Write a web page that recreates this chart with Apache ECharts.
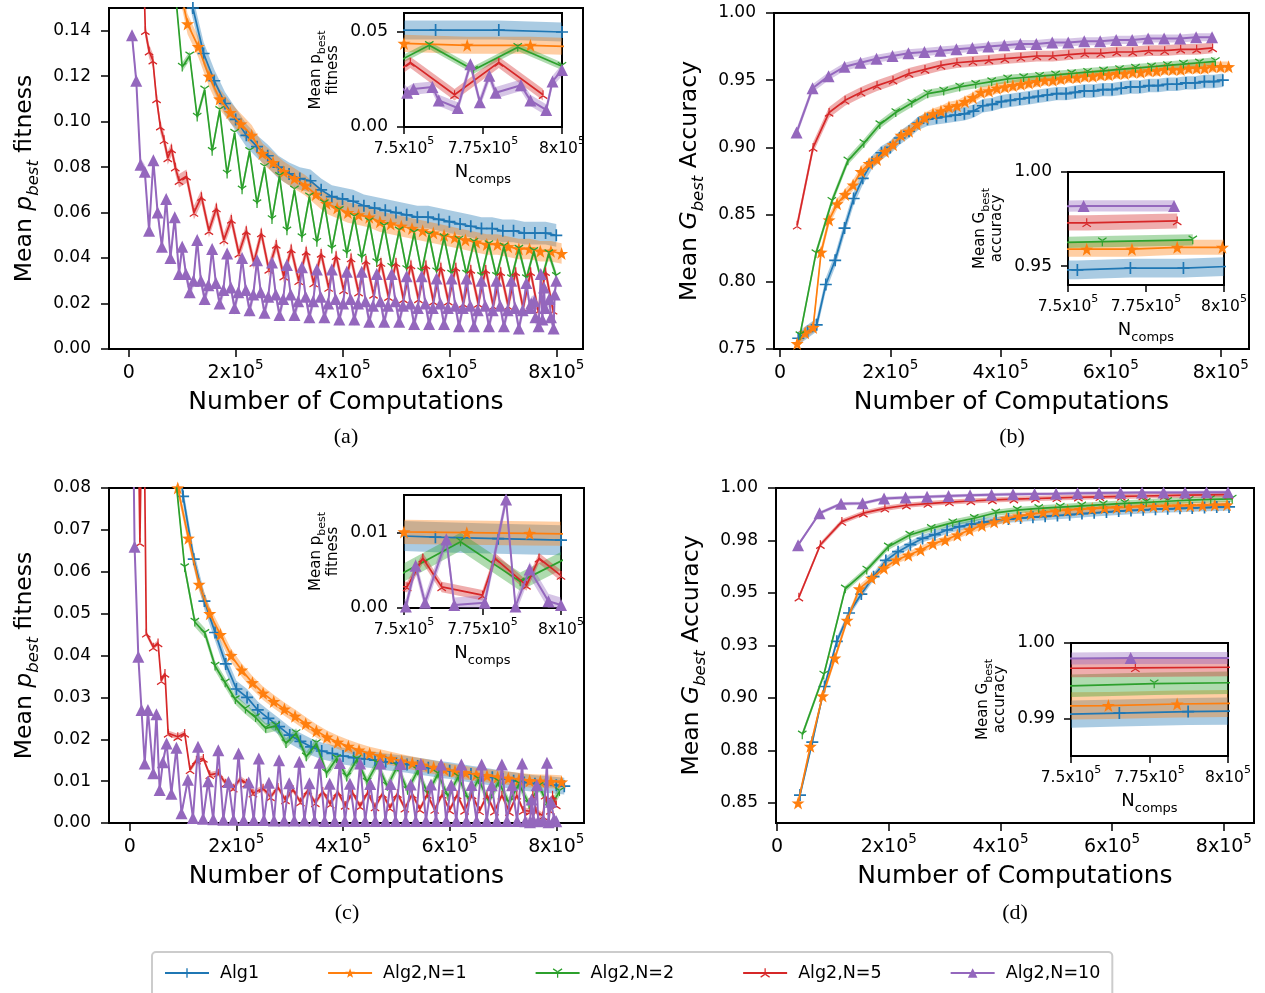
<!DOCTYPE html>
<html>
<head>
<meta charset="utf-8">
<script src="https://cdn.jsdelivr.net/npm/echarts@6/dist/echarts.min.js"></script>
<style>
html, body { margin: 0; padding: 0; background: #fff; }
#chart { width: 1265px; height: 993px; }
</style>
</head>
<body>
<div id="chart"></div>
<script>
// x values are in units of 1e5 computations

// ---- panel (a): mean p_best fitness, problem 1
var aBlueX = [0.2,0.4,0.6,0.8,1.0,1.2,1.4,1.6,1.8,2.0,2.2,2.4,2.6,2.8,3.0,3.2,3.4,3.6,3.8,4.0,4.2,4.4,4.6,4.8,5.0,5.2,5.4,5.6,5.8,6.0,6.2,6.4,6.6,6.8,7.0,7.2,7.4,7.6,7.8,8.0];
var aBlueY = [0.40,0.30,0.25,0.20,0.17,0.150,0.130,0.118,0.108,0.101,0.094,0.089,0.085,0.080,0.077,0.075,0.074,0.070,0.067,0.066,0.065,0.063,0.062,0.061,0.060,0.059,0.058,0.058,0.057,0.056,0.055,0.054,0.053,0.053,0.052,0.052,0.051,0.051,0.051,0.050];
var aOrangeX = [0.1,0.3,0.5,0.7,0.9,1.1,1.3,1.5,1.7,1.9,2.1,2.3,2.5,2.7,2.9,3.1,3.3,3.5,3.7,3.9,4.1,4.3,4.5,4.7,4.9,5.1,5.3,5.5,5.7,5.9,6.1,6.3,6.5,6.7,6.9,7.1,7.3,7.5,7.7,7.9,8.1];
var aOrangeY = [0.5,0.4,0.3,0.22,0.165,0.143,0.133,0.120,0.110,0.104,0.099,0.094,0.086,0.082,0.078,0.075,0.072,0.068,0.064,0.062,0.060,0.059,0.058,0.056,0.055,0.054,0.053,0.052,0.051,0.050,0.049,0.048,0.047,0.046,0.046,0.045,0.044,0.044,0.043,0.043,0.042];
var aGreenX = [0.58,0.72,0.86,1.00,1.14,1.28,1.42,1.56,1.70,1.84,1.98,2.12,2.26,2.40,2.54,2.68,2.82,2.96,3.10,3.24,3.38,3.52,3.66,3.80,3.94,4.08,4.22,4.36,4.50,4.64,4.78,4.92,5.06,5.20,5.34,5.48,5.62,5.76,5.90,6.04,6.18,6.32,6.46,6.60,6.74,6.88,7.02,7.16,7.30,7.44,7.58,7.72,7.86,8.00];
var aGreenY = [0.30,0.22,0.16,0.124,0.129,0.102,0.114,0.087,0.105,0.077,0.095,0.070,0.087,0.064,0.080,0.057,0.076,0.052,0.070,0.049,0.067,0.047,0.064,0.044,0.061,0.042,0.058,0.040,0.056,0.038,0.054,0.036,0.052,0.035,0.051,0.034,0.050,0.034,0.049,0.033,0.048,0.033,0.047,0.032,0.046,0.032,0.045,0.031,0.044,0.031,0.043,0.030,0.042,0.032];
var aRedX = [0.24,0.31,0.38,0.45,0.52,0.59,0.66,0.73,0.80,0.87,0.94,1.08,1.22,1.36,1.50,1.64,1.78,1.92,2.06,2.20,2.34,2.48,2.62,2.76,2.90,3.04,3.18,3.32,3.46,3.60,3.74,3.88,4.02,4.16,4.30,4.44,4.58,4.72,4.86,5.00,5.14,5.28,5.42,5.56,5.70,5.84,5.98,6.12,6.26,6.40,6.54,6.68,6.82,6.96,7.10,7.24,7.38,7.52,7.66,7.80,7.94];
var aRedY = [0.20,0.140,0.131,0.127,0.110,0.098,0.092,0.084,0.088,0.080,0.074,0.076,0.060,0.067,0.052,0.062,0.048,0.057,0.042,0.052,0.038,0.051,0.035,0.046,0.032,0.044,0.030,0.043,0.029,0.042,0.027,0.041,0.026,0.040,0.025,0.039,0.024,0.038,0.023,0.038,0.022,0.037,0.022,0.037,0.021,0.036,0.021,0.036,0.020,0.035,0.020,0.035,0.019,0.034,0.019,0.034,0.018,0.034,0.017,0.034,0.017];
var aPurpleX = [0.06,0.14,0.22,0.30,0.38,0.46,0.54,0.62,0.70,0.78,0.86,0.94,
    1.00,1.07,1.14,1.21,1.28,1.35,1.42,1.49,1.56,1.63,1.70,1.77,1.84,1.91,1.98,2.05,2.12,2.19,2.26,2.33,2.40,2.47,2.54,2.61,2.68,2.75,2.82,2.89,
    2.96,3.03,3.10,3.17,3.24,3.31,3.38,3.45,3.52,3.59,3.66,3.73,3.80,3.87,3.94,4.01,4.08,4.15,4.22,4.29,4.36,4.43,4.50,4.57,4.64,4.71,4.78,4.85,
    4.92,4.99,5.06,5.13,5.20,5.27,5.34,5.41,5.48,5.55,5.62,5.69,5.76,5.83,5.90,5.97,6.04,6.11,6.18,6.25,6.32,6.39,6.46,6.53,6.60,6.67,6.74,6.81,
    6.88,6.95,7.02,7.09,7.16,7.23,7.30,7.37,7.44,7.51,7.53,7.59,7.61,7.67,7.71,7.74,7.77,7.79,7.87,7.90,7.95,7.97,8.00];
var aPurpleY = [0.138,0.118,0.081,0.078,0.052,0.083,0.060,0.045,0.066,0.040,0.058,0.033,
    0.045,0.033,0.025,0.030, 0.048,0.030,0.022,0.028, 0.044,0.029,0.020,0.026, 0.042,0.027,0.018,0.025, 0.040,0.026,0.017,0.024, 0.039,0.025,0.016,0.023, 0.038,0.024,0.015,0.022,
    0.037,0.024,0.015,0.021, 0.036,0.023,0.014,0.021, 0.035,0.023,0.014,0.020, 0.035,0.022,0.013,0.020, 0.034,0.022,0.013,0.020, 0.034,0.021,0.012,0.019, 0.033,0.021,0.012,0.019,
    0.033,0.021,0.012,0.019, 0.032,0.020,0.011,0.018, 0.032,0.020,0.011,0.018, 0.031,0.020,0.011,0.018, 0.031,0.019,0.010,0.018, 0.031,0.019,0.010,0.017, 0.030,0.019,0.010,0.017,
    0.030,0.019,0.010,0.017, 0.030,0.018,0.009,0.017, 0.029,0.018,0.020,0.021,0.014,0.010,0.033,0.013,0.027,0.018,0.022,0.014,0.009,0.024,0.030];
var aBand = [0.005, 0.0045, 0.002, 0.003, 0.003];

// ---- panel (b): mean G_best accuracy, problem 1
var bBlueX = [0.33,0.50,0.665,0.83,1.0,1.17,1.335,1.50,1.67,1.84,2.0,2.17,2.34,2.51,2.675,2.84,3.01,3.18,3.345,3.51,3.68,3.85,4.015,4.18,4.35,4.52,4.685,4.85,5.02,5.19,5.355,5.52,5.69,5.86,6.025,6.19,6.36,6.53,6.695,6.86,7.03,7.20,7.365,7.53,7.70,7.87,8.035];
var bBlueY = [0.758,0.763,0.768,0.798,0.816,0.840,0.862,0.877,0.889,0.896,0.900,0.907,0.912,0.918,0.921,0.922,0.923,0.924,0.925,0.927,0.931,0.932,0.934,0.935,0.936,0.937,0.938,0.939,0.940,0.940,0.941,0.942,0.942,0.943,0.943,0.944,0.945,0.945,0.946,0.946,0.947,0.947,0.948,0.948,0.949,0.949,0.950];
var bOrangeX = [0.31,0.455,0.60,0.745,0.89,1.035,1.18,1.325,1.47,1.615,1.76,1.905,2.05,2.195,2.34,2.485,2.63,2.775,2.92,3.065,3.21,3.355,3.50,3.645,3.79,3.935,4.08,4.225,4.37,4.515,4.66,4.805,4.95,5.095,5.24,5.385,5.53,5.675,5.82,5.965,6.11,6.255,6.40,6.545,6.69,6.835,6.98,7.125,7.27,7.415,7.56,7.705,7.85,7.995,8.14];
var bOrangeY = [0.754,0.762,0.766,0.822,0.846,0.858,0.865,0.872,0.882,0.888,0.891,0.897,0.902,0.909,0.912,0.917,0.922,0.925,0.927,0.930,0.931,0.934,0.937,0.941,0.942,0.944,0.945,0.946,0.947,0.948,0.949,0.950,0.950,0.951,0.952,0.952,0.953,0.953,0.954,0.954,0.955,0.955,0.956,0.956,0.957,0.957,0.958,0.958,0.958,0.959,0.959,0.959,0.960,0.960,0.960];
var bGreenX = [0.36,0.65,0.94,1.23,1.52,1.81,2.10,2.39,2.68,2.97,3.26,3.55,3.84,4.13,4.42,4.71,5.00,5.29,5.58,5.87,6.16,6.45,6.74,7.03,7.32,7.61,7.90];
var bGreenY = [0.760,0.821,0.860,0.890,0.903,0.917,0.926,0.933,0.940,0.942,0.945,0.947,0.949,0.951,0.952,0.953,0.954,0.955,0.956,0.957,0.958,0.959,0.960,0.961,0.962,0.963,0.964];
var bRedX = [0.31,0.60,0.89,1.18,1.47,1.76,2.05,2.34,2.63,2.92,3.21,3.50,3.79,4.08,4.37,4.66,4.95,5.24,5.53,5.82,6.11,6.40,6.69,6.98,7.27,7.56,7.85];
var bRedY = [0.842,0.900,0.926,0.935,0.941,0.946,0.950,0.955,0.958,0.961,0.963,0.964,0.965,0.966,0.967,0.968,0.968,0.969,0.970,0.970,0.971,0.971,0.972,0.972,0.973,0.973,0.974];
var bPurpleX = [0.30,0.59,0.88,1.17,1.46,1.75,2.04,2.33,2.62,2.91,3.20,3.49,3.78,4.07,4.36,4.65,4.94,5.23,5.52,5.81,6.10,6.39,6.68,6.97,7.26,7.55,7.84];
var bPurpleY = [0.911,0.944,0.953,0.960,0.963,0.966,0.968,0.970,0.971,0.972,0.973,0.974,0.975,0.976,0.977,0.977,0.978,0.978,0.979,0.979,0.980,0.980,0.981,0.981,0.981,0.982,0.982];
var bBand = [0.005, 0.004, 0.003, 0.004, 0.003];

// ---- panel (c): mean p_best fitness, problem 2
var cBlueX = [0.2,0.4,0.6,0.8,1.0,1.2,1.4,1.6,1.8,2.0,2.2,2.4,2.6,2.8,3.0,3.2,3.4,3.6,3.8,4.0,4.2,4.4,4.6,4.8,5.0,5.2,5.4,5.6,5.8,6.0,6.2,6.4,6.6,6.8,7.0,7.2,7.4,7.6,7.8,8.0,8.15];
var cBlueY = [0.30,0.20,0.14,0.10,0.078,0.063,0.053,0.0455,0.038,0.032,0.030,0.027,0.025,0.023,0.021,0.0195,0.0182,0.0172,0.0166,0.016,0.0156,0.0153,0.015,0.0146,0.0143,0.014,0.0136,0.0132,0.0128,0.0125,0.0121,0.0117,0.0113,0.0109,0.0105,0.0101,0.0097,0.0094,0.0092,0.0090,0.0088];
var cOrangeX = [0.1,0.3,0.5,0.7,0.9,1.1,1.3,1.5,1.7,1.9,2.1,2.3,2.5,2.7,2.9,3.1,3.3,3.5,3.7,3.9,4.1,4.3,4.5,4.7,4.9,5.1,5.3,5.5,5.7,5.9,6.1,6.3,6.5,6.7,6.9,7.1,7.3,7.5,7.7,7.9,8.1];
var cOrangeY = [0.5,0.3,0.18,0.12,0.080,0.068,0.057,0.050,0.045,0.040,0.0365,0.0335,0.031,0.029,0.0272,0.0255,0.0237,0.022,0.0205,0.0193,0.0183,0.0174,0.0166,0.016,0.0154,0.0148,0.0143,0.0138,0.0133,0.0128,0.0124,0.012,0.0116,0.0113,0.011,0.0107,0.0104,0.0101,0.010,0.0099,0.0098];
var cGreenX = [0.46,0.65,0.84,1.03,1.22,1.41,1.60,1.79,1.98,2.17,2.36,2.55,2.74,2.93,3.12,3.31,3.50,3.69,3.88,4.07,4.26,4.45,4.64,4.83,5.02,5.21,5.40,5.59,5.78,5.97,6.16,6.35,6.54,6.73,6.92,7.11,7.30,7.49,7.68,7.87,8.06];
var cGreenY = [0.20,0.13,0.085,0.061,0.048,0.0453,0.0375,0.0335,0.0295,0.0272,0.0252,0.0226,0.0232,0.019,0.0214,0.0158,0.019,0.0119,0.0154,0.011,0.0152,0.0098,0.0142,0.0088,0.0135,0.0078,0.0125,0.007,0.0117,0.0064,0.011,0.0058,0.0104,0.0053,0.0098,0.0049,0.0093,0.0045,0.0088,0.0035,0.0075];
var cRedX = [0.10,0.19,0.25,0.31,0.44,0.53,0.59,0.66,0.72,0.90,1.03,1.13,1.25,1.38,1.50,1.66,1.80,1.94,2.07,2.19,2.31,2.50,2.64,2.78,2.92,3.06,3.20,3.34,3.48,3.62,3.76,3.90,4.04,4.18,4.32,4.46,4.60,4.74,4.88,5.02,5.16,5.30,5.44,5.58,5.72,5.86,6.00,6.14,6.28,6.42,6.56,6.70,6.84,6.98,7.12,7.26,7.38,7.51,7.56,7.62,7.75,7.79,7.89,7.93,8.00];
var cRedY = [0.15,0.067,0.12,0.0453,0.042,0.043,0.034,0.0357,0.0214,0.0206,0.0214,0.0127,0.015,0.0154,0.0115,0.0119,0.0095,0.0083,0.0105,0.0095,0.0071,0.0083,0.0062,0.0085,0.0055,0.0080,0.0050,0.0078,0.0048,0.0075,0.0045,0.0074,0.0042,0.0072,0.0040,0.0072,0.0038,0.0070,0.0036,0.0070,0.0035,0.0069,0.0033,0.0068,0.0032,0.0068,0.0031,0.0067,0.0030,0.0067,0.0029,0.0066,0.0028,0.0066,0.0027,0.0066,0.0030,0.0028,0.0066,0.0028,0.0017,0.0066,0.0030,0.0066,0.0043];
var cPurpleX = [0.02,0.09,0.16,0.22,0.28,0.34,0.44,0.50,0.56,0.62,0.69,0.78,0.875,0.97,
    1.09,1.185,1.28,1.375,1.47,1.565,1.66,1.755,1.85,1.945,2.04,2.135,2.23,2.325,2.42,2.515,2.61,2.705,2.80,2.895,2.99,3.085,3.18,3.275,3.37,3.465,3.56,3.655,
    3.75,3.845,3.94,4.035,4.13,4.225,4.32,4.415,4.51,4.605,4.70,4.795,4.89,4.985,5.08,5.175,5.27,5.365,5.46,5.555,5.65,5.745,5.84,5.935,6.03,6.125,6.22,6.315,
    6.41,6.505,6.60,6.695,6.79,6.885,6.98,7.075,7.17,7.265,7.36,7.42,7.506,7.537,7.567,7.635,7.66,7.757,7.825,7.855,7.90,7.96,8.00];
var cPurpleY = [0.14,0.066,0.0397,0.027,0.0142,0.027,0.0119,0.026,0.0079,0.0145,0.019,0.007,0.018,0.0023,
    0.0103,0.0012,0.0182,0.0010, 0.0100,0.0009,0.0174,0.0008, 0.0098,0.0008,0.0166,0.0007, 0.0097,0.0007,0.0154,0.0007, 0.0096,0.0006,0.0150,0.0006, 0.0095,0.0006,0.0146,0.0006, 0.0095,0.0006,0.0144,0.0005,
    0.0094,0.0005,0.0143,0.0005, 0.0094,0.0005,0.0142,0.0005, 0.0093,0.0005,0.0142,0.0005, 0.0093,0.0005,0.0141,0.0005, 0.0092,0.0005,0.0141,0.0005, 0.0092,0.0005,0.0140,0.0005, 0.0091,0.0005,0.0140,0.0005,
    0.0091,0.0005,0.0140,0.0005, 0.0090,0.0005,0.0140,0.0005, 0.0090,0.0005,0.0142,0.0004,0.0002,0.0056,0.0007,0.0091,0.0004,0.0007,0.0144,0.0002,0.0051,0.0009,0.0004];
var cBand = [0.002, 0.0016, 0.0012, 0.0007, 0.001];

// ---- panel (d): mean G_best accuracy, problem 2
var dBlueX = [0.41,0.63,0.849,1.069,1.288,1.508,1.727,1.947,2.166,2.386,2.605,2.825,3.044,3.264,3.483,3.703,3.922,4.142,4.361,4.581,4.80,5.02,5.239,5.459,5.678,5.898,6.117,6.337,6.556,6.776,6.995,7.215,7.434,7.654,7.873,8.093];
var dBlueY = [0.8538,0.879,0.9055,0.927,0.9405,0.9495,0.9578,0.9655,0.9697,0.973,0.976,0.9778,0.98,0.9816,0.9828,0.9838,0.9846,0.9852,0.9857,0.9861,0.9865,0.9869,0.9873,0.9878,0.9882,0.9886,0.989,0.9893,0.9896,0.9899,0.9901,0.9903,0.9905,0.9907,0.9909,0.991];
var dOrangeX = [0.375,0.595,0.814,1.034,1.253,1.473,1.692,1.912,2.131,2.351,2.57,2.79,3.009,3.229,3.448,3.668,3.887,4.107,4.326,4.546,4.765,4.985,5.204,5.424,5.643,5.863,6.082,6.302,6.521,6.741,6.96,7.18,7.399,7.619,7.838,8.058];
var dOrangeY = [0.850,0.877,0.901,0.919,0.937,0.952,0.957,0.9618,0.9657,0.968,0.9705,0.9735,0.9752,0.9776,0.98,0.9822,0.9838,0.9855,0.9866,0.9876,0.9884,0.989,0.9894,0.9898,0.9902,0.9905,0.9907,0.9909,0.9911,0.9913,0.9914,0.9915,0.9916,0.9917,0.9919,0.992];
var dGreenX = [0.45,0.835,1.22,1.605,1.99,2.375,2.76,3.145,3.53,3.915,4.30,4.685,5.07,5.455,5.84,6.225,6.61,6.995,7.38,7.765,8.15];
var dGreenY = [0.8825,0.911,0.952,0.961,0.972,0.9776,0.9808,0.9835,0.9856,0.9882,0.9895,0.9903,0.9909,0.9915,0.9921,0.9927,0.9932,0.9937,0.9942,0.9946,0.9948];
var dRedX = [0.39,0.775,1.16,1.545,1.93,2.315,2.70,3.085,3.47,3.855,4.24,4.625,5.01,5.395,5.78,6.165,6.55,6.935,7.32,7.705,8.09];
var dRedY = [0.948,0.973,0.984,0.988,0.9903,0.9918,0.9926,0.9933,0.9938,0.9943,0.9947,0.995,0.9953,0.9956,0.9958,0.996,0.9962,0.9964,0.9966,0.9967,0.9968];
var dPurpleX = [0.375,0.76,1.145,1.53,1.915,2.30,2.685,3.07,3.455,3.84,4.225,4.61,4.995,5.38,5.765,6.15,6.535,6.92,7.305,7.69,8.075];
var dPurpleY = [0.9728,0.988,0.9925,0.9927,0.995,0.9955,0.9958,0.9962,0.9965,0.9968,0.997,0.9972,0.9973,0.9975,0.9976,0.9977,0.9978,0.9979,0.9979,0.998,0.998];
var dBand = [0.0018, 0.0018, 0.0015, 0.0012, 0.0008];

// ---- ticks and labels
var mainXTicks = [0, 2, 4, 6, 8];
var mainXLabels = ['{b|0}', '{b|2x10}{s|5}', '{b|4x10}{s|5}', '{b|6x10}{s|5}', '{b|8x10}{s|5}'];
var insetXTicks = [7.5, 7.75, 8];
var insetXLabels = ['{b|7.5x10}{s|5}', '{b|7.75x10}{s|5}', '{b|8x10}{s|5}'];
var aYTicks = [0, 0.02, 0.04, 0.06, 0.08, 0.10, 0.12, 0.14];
var aYLabels = ['0.00', '0.02', '0.04', '0.06', '0.08', '0.10', '0.12', '0.14'];
var bYTicks = [0.75, 0.80, 0.85, 0.90, 0.95, 1.00];
var bYLabels = ['0.75', '0.80', '0.85', '0.90', '0.95', '1.00'];
var cYTicks = [0, 0.01, 0.02, 0.03, 0.04, 0.05, 0.06, 0.07, 0.08];
var cYLabels = ['0.00', '0.01', '0.02', '0.03', '0.04', '0.05', '0.06', '0.07', '0.08'];
var dYTicks = [0.85, 0.875, 0.90, 0.925, 0.95, 0.975, 1.00];
var dYLabels = ['0.85', '0.88', '0.90', '0.93', '0.95', '0.98', '1.00'];
var aInYTicks = [0, 0.05], aInYLabels = ['0.00', '0.05'];
var bInYTicks = [0.95, 1.00], bInYLabels = ['0.95', '1.00'];
var cInYTicks = [0, 0.01], cInYLabels = ['0.00', '0.01'];
var dInYTicks = [0.99, 1.00], dInYLabels = ['0.99', '1.00'];

var names = ['Alg1', 'Alg2,N=1', 'Alg2,N=2', 'Alg2,N=5', 'Alg2,N=10'];
var colors = ['#1f77b4', '#ff7f0e', '#2ca02c', '#d62728', '#9467bd'];
var bandColors = ['rgba(31,119,180,0.38)', 'rgba(255,127,14,0.38)', 'rgba(44,160,44,0.38)', 'rgba(214,39,40,0.38)', 'rgba(148,103,189,0.38)'];
var symbols = [
    'path://M4.3,0H5.7V4.3H10V5.7H5.7V10H4.3V5.7H0V4.3H4.3Z',
    'path://M5,0L6.18,3.38L9.76,3.45L6.9,5.62L7.94,9.05L5,7L2.06,9.05L3.1,5.62L0.24,3.45L3.82,3.38Z',
    'path://M4.4,5L5.6,5L5.6,10L4.4,10Z M5.3,4.48L0.97,1.98L0.37,3.02L4.7,5.52Z M5.3,5.52L9.63,3.02L9.03,1.98L4.7,4.48Z',
    'path://M4.4,5L5.6,5L5.6,0L4.4,0Z M5.3,5.52L0.97,8.02L0.37,6.98L4.7,4.48Z M5.3,4.48L9.63,6.98L9.03,8.02L4.7,5.52Z',
    'triangle'
];
var symbolSizes = [12, 13, 9, 9, 12];
var lineWidths = [1.7, 1.7, 1.7, 1.7, 2];
var FONT = 'DejaVu Sans';

var grids = [
    {left: 109, top: 8, width: 474, height: 341},
    {left: 774, top: 13, width: 475, height: 336},
    {left: 109, top: 488, width: 475, height: 335},
    {left: 776, top: 488, width: 478, height: 335},
    {left: 404, top: 13, width: 158, height: 114},
    {left: 1068, top: 172, width: 156, height: 113},
    {left: 404, top: 495, width: 157, height: 113},
    {left: 1071, top: 643, width: 157, height: 113}
];

function labelFor(ticks, labels, v) {
    for (var i = 0; i < ticks.length; i++) {
        if (Math.abs(ticks[i] - v) < 1e-9) return labels[i];
    }
    return '';
}

var tickStyle = {color: '#000', width: 1.5};

function makeX(gridIndex, min, max, ticks, labels, inset) {
    return {
        type: 'value', gridIndex: gridIndex, min: min, max: max,
        axisLine: {show: false, onZero: false},
        axisTick: {show: true, length: inset ? 7 : 8, lineStyle: tickStyle, customValues: ticks},
        axisLabel: {
            customValues: ticks, margin: 9,
            formatter: function (v) { return labelFor(ticks, labels, v); },
            rich: {
                b: {fontFamily: FONT, fontSize: inset ? 15.5 : 19, color: '#000', verticalAlign: 'top', lineHeight: inset ? 16 : 19, padding: [inset ? 5 : 6, 0, 0, 0]},
                s: {fontFamily: FONT, fontSize: inset ? 11 : 13.5, color: '#000', verticalAlign: 'top', lineHeight: inset ? 11 : 14}
            }
        },
        splitLine: {show: false},
        name: inset ? '{n|N}{sub|comps}' : 'Number of Computations',
        nameLocation: 'middle', nameGap: inset ? 36 : 41,
        nameTextStyle: {
            fontFamily: FONT, fontSize: inset ? 18 : 25, color: '#000',
            rich: {
                n: {fontFamily: FONT, fontSize: 18, color: '#000', verticalAlign: 'top', lineHeight: 20},
                sub: {fontFamily: FONT, fontSize: 13, color: '#000', verticalAlign: 'top', lineHeight: 13, padding: [10, 0, 0, 0]}
            }
        }
    };
}

function makeY(gridIndex, min, max, ticks, labels, name, inset) {
    return {
        type: 'value', gridIndex: gridIndex, min: min, max: max,
        axisLine: {show: false, onZero: false},
        axisTick: {show: true, length: inset ? 7 : 8, lineStyle: tickStyle, customValues: ticks},
        axisLabel: {
            customValues: ticks, margin: inset ? 16 : 18,
            formatter: function (v) { return labelFor(ticks, labels, v); },
            fontFamily: FONT, fontSize: 17, color: '#000'
        },
        splitLine: {show: false},
        name: name, nameLocation: 'middle', nameRotate: 90, nameGap: inset ? 61 : 70,
        nameTextStyle: {
            fontFamily: FONT, fontSize: 23.5, color: '#000',
            rich: {
                n: {fontFamily: FONT, fontSize: 23.5, color: '#000', verticalAlign: 'top', lineHeight: 26},
                i: {fontFamily: FONT, fontSize: 23.5, fontStyle: 'italic', color: '#000', verticalAlign: 'top', lineHeight: 26},
                sub: {fontFamily: FONT, fontSize: 16.5, fontStyle: 'italic', color: '#000', verticalAlign: 'top', lineHeight: 16, padding: [12, 0, 0, 0]},
                m: {fontFamily: FONT, fontSize: 15, color: '#000', verticalAlign: 'top', lineHeight: 17},
                ms: {fontFamily: FONT, fontSize: 11, color: '#000', verticalAlign: 'top', lineHeight: 11, padding: [8, 0, 0, 0]}
            }
        }
    };
}

var fitName = '{n|Mean }{i|p}{sub|best}{n| fitness}';
var accName = '{n|Mean }{i|G}{sub|best}{n| Accuracy}';
var fitInName = '{m|Mean p}{ms|best}\n{m|fitness}';
var accInName = '{m|Mean G}{ms|best}\n{m|accuracy}';

var xAxes = [
    makeX(0, -0.37, 8.5, mainXTicks, mainXLabels, false),
    makeX(1, -0.11, 8.51, mainXTicks, mainXLabels, false),
    makeX(2, -0.39, 8.52, mainXTicks, mainXLabels, false),
    makeX(3, -0.02, 8.54, mainXTicks, mainXLabels, false),
    makeX(4, 7.5, 8, insetXTicks, insetXLabels, true),
    makeX(5, 7.5, 8, insetXTicks, insetXLabels, true),
    makeX(6, 7.5, 8, insetXTicks, insetXLabels, true),
    makeX(7, 7.5, 8, insetXTicks, insetXLabels, true)
];
var yAxes = [
    makeY(0, 0, 0.15, aYTicks, aYLabels, fitName, false),
    makeY(1, 0.75, 1.0, bYTicks, bYLabels, accName, false),
    makeY(2, 0, 0.08, cYTicks, cYLabels, fitName, false),
    makeY(3, 0.8405, 1.0, dYTicks, dYLabels, accName, false),
    makeY(4, 0, 0.06, aInYTicks, aInYLabels, fitInName, true),
    makeY(5, 0.94, 1.0, bInYTicks, bInYLabels, accInName, true),
    makeY(6, 0, 0.015, cInYTicks, cInYLabels, fitInName, true),
    makeY(7, 0.985, 1.0, dInYTicks, dInYLabels, accInName, true)
];

var panels = [
    {grid: 0, inset: 4, xs: [aBlueX, aOrangeX, aGreenX, aRedX, aPurpleX], ys: [aBlueY, aOrangeY, aGreenY, aRedY, aPurpleY], sd: aBand},
    {grid: 1, inset: 5, xs: [bBlueX, bOrangeX, bGreenX, bRedX, bPurpleX], ys: [bBlueY, bOrangeY, bGreenY, bRedY, bPurpleY], sd: bBand},
    {grid: 2, inset: 6, xs: [cBlueX, cOrangeX, cGreenX, cRedX, cPurpleX], ys: [cBlueY, cOrangeY, cGreenY, cRedY, cPurpleY], sd: cBand},
    {grid: 3, inset: 7, xs: [dBlueX, dOrangeX, dGreenX, dRedX, dPurpleX], ys: [dBlueY, dOrangeY, dGreenY, dRedY, dPurpleY], sd: dBand}
];

// shaded spread band around a curve, drawn through the axis scales
function bandSeries(g, xs, ys, sd, color) {
    return {
        type: 'custom', xAxisIndex: g, yAxisIndex: g, silent: true, clip: true, z: 1,
        data: [[xs[xs.length - 1], ys[ys.length - 1]]],
        renderItem: function (params, api) {
            var up = [], lo = [];
            for (var i = 0; i < xs.length; i++) {
                up.push(api.coord([xs[i], ys[i] + sd]));
                lo.push(api.coord([xs[i], ys[i] - sd]));
            }
            return {type: 'polygon', shape: {points: up.concat(lo.reverse())}, style: {fill: color, stroke: null}};
        }
    };
}

function lineSeries(g, k, xs, ys) {
    return {
        type: 'line', name: names[k], xAxisIndex: g, yAxisIndex: g, z: 2 + k * 0.1,
        data: xs.map(function (x, i) { return [x, ys[i]]; }),
        symbol: symbols[k], symbolSize: symbolSizes[k], showSymbol: true, clip: true,
        lineStyle: {color: colors[k], width: lineWidths[k]},
        itemStyle: {color: colors[k]},
        emphasis: {disabled: true}
    };
}

var series = [];
panels.forEach(function (p) {
    [p.grid, p.inset].forEach(function (g) {
        for (var k = 0; k < 5; k++) series.push(bandSeries(g, p.xs[k], p.ys[k], p.sd[k], bandColors[k]));
        for (var k2 = 0; k2 < 5; k2++) series.push(lineSeries(g, k2, p.xs[k2], p.ys[k2]));
    });
});

var panelTags = [['(a)', 346, 437], ['(b)', 1012, 437], ['(c)', 347, 913], ['(d)', 1015, 913]];

var chart = echarts.init(document.getElementById('chart'), null, {renderer: 'canvas'});
chart.setOption({
    animation: false,
    backgroundColor: '#fff',
    grid: grids.map(function (g) {
        return {left: g.left, top: g.top, width: g.width, height: g.height, show: true,
            borderColor: '#000', borderWidth: 2, backgroundColor: '#fff',
            containLabel: false, outerBoundsMode: 'none'};
    }),
    xAxis: xAxes,
    yAxis: yAxes,
    legend: {
        data: names, left: 152, top: 952, orient: 'horizontal',
        itemWidth: 44, itemHeight: 12, itemGap: 68,
        padding: [12, 12, 16, 12],
        borderColor: '#cccccc', borderWidth: 2, borderRadius: 4, backgroundColor: '#fff',
        textStyle: {fontFamily: FONT, fontSize: 17.5, color: '#000', padding: [0, 0, 0, 6]},
        selectedMode: false
    },
    graphic: panelTags.map(function (t) {
        return {type: 'text', x: t[1], y: t[2], silent: true,
            style: {text: t[0], fill: '#000', fontFamily: 'Liberation Serif', fontSize: 22,
                align: 'center', verticalAlign: 'middle', textAlign: 'center', textVerticalAlign: 'middle'}};
    }),
    series: series
});
</script>
</body>
</html>
